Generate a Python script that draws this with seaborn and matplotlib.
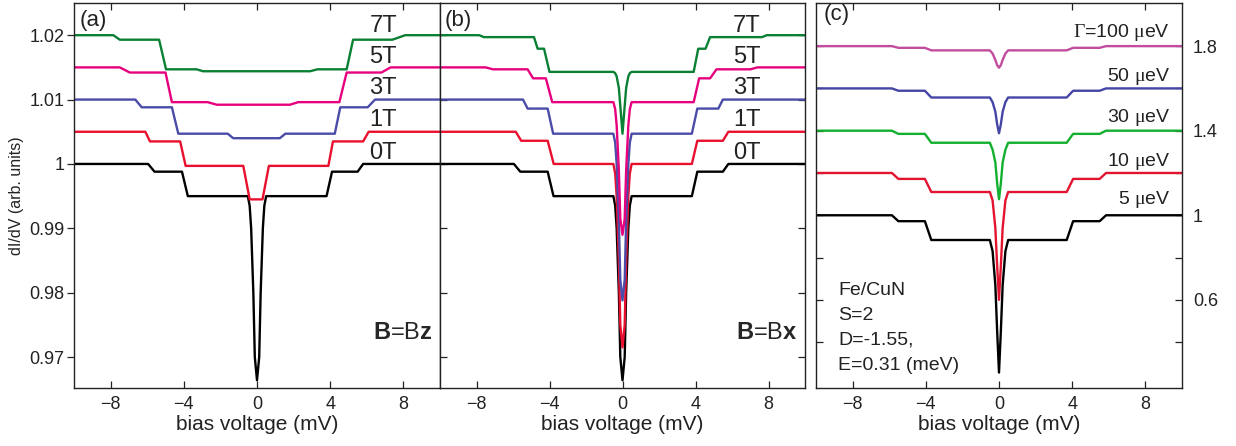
import numpy as np
import pandas as pd
import matplotlib
matplotlib.use("Agg")
import matplotlib.pyplot as plt
import seaborn as sns

# ---------------- data ----------------
# shared bias grid for the B = 0 curve (same in panels a and b)
zero_V = [-10, -5.95, -5.6, -4.1, -3.78, -0.5, -0.4, -0.32, -0.2, -0.12, 0,
          0.12, 0.2, 0.32, 0.4, 0.5, 3.8, 4.1, 5.5, 5.8, 10]
zero_G = [1.0, 1.0, 0.9988, 0.9988, 0.995, 0.995, 0.9935, 0.99, 0.98, 0.97, 0.9664,
          0.97, 0.98, 0.99, 0.9935, 0.995, 0.995, 0.9988, 0.9988, 1.0, 1.0]

# panel (a): B along z
a1_V = [-10, -6.1, -5.85, -4.2, -3.9, -0.75, -0.4, 0.3, 0.65, 3.9, 4.15, 5.8, 6.1, 10]
a1_G = [1.005, 1.005, 1.0035, 1.0035, 0.9997, 0.9997, 0.9945, 0.9945, 0.9997, 0.9997,
        1.0035, 1.0035, 1.005, 1.005]
a3_V = [-10, -6.65, -6.3, -4.65, -4.3, -1.6, -1.3, 1.25, 1.55, 4.25, 4.55, 6.05, 6.45, 10]
a3_G = [1.01, 1.01, 1.0088, 1.0088, 1.0047, 1.0047, 1.004, 1.004, 1.0047, 1.0047,
        1.0088, 1.0088, 1.01, 1.01]
a5_V = [-10, -7.5, -6.95, -5.0, -4.65, -2.7, -2.2, 1.8, 2.25, 4.5, 4.9, 6.8, 7.3, 10]
a5_G = [1.015, 1.015, 1.0142, 1.0142, 1.0096, 1.0096, 1.0092, 1.0092, 1.0096, 1.0096,
        1.0142, 1.0142, 1.015, 1.015]
a7_V = [-10, -7.85, -7.5, -5.35, -4.97, -3.3, -2.95, 2.9, 3.3, 4.9, 5.25, 7.4, 8.1, 10]
a7_G = [1.02, 1.02, 1.0193, 1.0193, 1.0147, 1.0147, 1.0144, 1.0144, 1.0147, 1.0147,
        1.0193, 1.0193, 1.02, 1.02]

# panel (b): B along x
b1_V = [-10, -5.85, -5.55, -4.1, -3.77, -0.5, -0.4, -0.32, -0.2, -0.12, 0,
        0.12, 0.2, 0.32, 0.4, 0.5, 3.8, 4.1, 5.5, 5.8, 10]
b1_G = [1.005, 1.005, 1.0036, 1.0036, 1.0, 1.0, 0.9985, 0.995, 0.985, 0.975, 0.9715,
        0.975, 0.985, 0.995, 0.9985, 1.0, 1.0, 1.0036, 1.0036, 1.005, 1.005]
b3_V = [-10, -5.45, -5.2, -4.1, -3.8, -0.5, -0.4, -0.32, -0.2, -0.12, 0,
        0.12, 0.2, 0.32, 0.4, 0.5, 3.8, 4.1, 5.25, 5.5, 10]
b3_G = [1.01, 1.01, 1.0086, 1.0086, 1.0047, 1.0047, 1.0033, 1.0, 0.991, 0.982, 0.9788,
        0.982, 0.991, 1.0, 1.0033, 1.0047, 1.0047, 1.0086, 1.0086, 1.01, 1.01]
b5_V = [-10, -7.5, -7.1, -5.2, -4.9, -4.2, -3.85, -0.5, -0.4, -0.32, -0.2, -0.12, 0,
        0.12, 0.2, 0.32, 0.4, 0.5, 3.9, 4.2, 4.8, 5.15, 7.0, 7.4, 10]
b5_G = [1.015, 1.015, 1.0147, 1.0147, 1.0133, 1.0133, 1.0096, 1.0096, 1.0085, 1.006,
        0.999, 0.9915, 0.989, 0.9915, 0.999, 1.006, 1.0085, 1.0096, 1.0096, 1.0133,
        1.0133, 1.0147, 1.0147, 1.015, 1.015]
b7_V = [-10, -7.85, -7.6, -4.85, -4.65, -4.3, -4.0, -0.5, -0.4, -0.32, -0.2, -0.12, 0,
        0.12, 0.2, 0.32, 0.4, 0.5, 3.9, 4.15, 4.55, 4.8, 7.65, 7.9, 10]
b7_G = [1.02, 1.02, 1.0197, 1.0197, 1.0179, 1.0179, 1.0143, 1.0143, 1.0141, 1.0136,
        1.0118, 1.009, 1.0047, 1.009, 1.0118, 1.0136, 1.0141, 1.0143, 1.0143, 1.0179,
        1.0179, 1.0197, 1.0197, 1.02, 1.02]

# panel (c): broadening Gamma, curves offset by 0.2
c_V = [-10, -5.85, -5.5, -4.05, -3.7, -0.5, -0.35, -0.2, -0.1, 0,
       0.1, 0.2, 0.35, 0.5, 3.7, 4.05, 5.5, 5.85, 10]
c5_G = [1.0, 1.0, 0.972, 0.972, 0.883, 0.883, 0.83, 0.67, 0.45, 0.256,
        0.45, 0.67, 0.83, 0.883, 0.883, 0.972, 0.972, 1.0, 1.0]
c10_G = [1.2, 1.2, 1.172, 1.172, 1.11, 1.11, 1.07, 0.94, 0.76, 0.6,
         0.76, 0.94, 1.07, 1.11, 1.11, 1.172, 1.172, 1.2, 1.2]
c30_G = [1.4, 1.4, 1.385, 1.385, 1.343, 1.343, 1.31, 1.25, 1.15, 1.076,
         1.15, 1.25, 1.31, 1.343, 1.343, 1.385, 1.385, 1.4, 1.4]
c50_G = [1.6, 1.6, 1.589, 1.589, 1.557, 1.557, 1.535, 1.49, 1.43, 1.388,
         1.43, 1.49, 1.535, 1.557, 1.557, 1.589, 1.589, 1.6, 1.6]
c100_G = [1.8, 1.8, 1.792, 1.792, 1.78, 1.78, 1.765, 1.735, 1.71, 1.698,
          1.71, 1.735, 1.765, 1.78, 1.78, 1.792, 1.792, 1.8, 1.8]

field_labels = ["7T", "5T", "3T", "1T", "0T"]
field_label_G = [1.0215, 1.0166, 1.0118, 1.0068, 1.0017]
gamma_labels = [r"$\mathrm{\Gamma}$=100 $\mathrm{\mu}$eV", r"50 $\mathrm{\mu}$eV",
                r"30 $\mathrm{\mu}$eV", r"10 $\mathrm{\mu}$eV", r"5 $\mathrm{\mu}$eV"]
gamma_label_G = [1.865, 1.656, 1.462, 1.254, 1.074]

# ---------------- style ----------------
sns.set_style("ticks")
plt.rcParams['font.family'] = ['Liberation Sans', 'DejaVu Sans']
plt.rcParams['mathtext.fontset'] = 'custom'
plt.rcParams['mathtext.rm'] = 'Liberation Serif'
plt.rcParams['mathtext.it'] = 'Liberation Serif:italic'
plt.rcParams['mathtext.bf'] = 'Liberation Sans:bold'

col_ab = {"0T": "black", "1T": "#e8102e", "3T": "#4b4ba8", "5T": "#e6007e", "7T": "#0a8034"}
col_c = {"5": "black", "10": "#e31430", "30": "#12b02e", "50": "#4545a5", "100": "#c24c9e"}


def long_df(curves):
    frames = []
    for name, V, G in curves:
        frames.append(pd.DataFrame({"V": V, "G": G, "curve": name}))
    return pd.concat(frames, ignore_index=True)


df_a = long_df([("0T", zero_V, zero_G), ("1T", a1_V, a1_G), ("3T", a3_V, a3_G),
                ("5T", a5_V, a5_G), ("7T", a7_V, a7_G)])
df_b = long_df([("0T", zero_V, zero_G), ("1T", b1_V, b1_G), ("3T", b3_V, b3_G),
                ("5T", b5_V, b5_G), ("7T", b7_V, b7_G)])
df_c = long_df([("5", c_V, c5_G), ("10", c_V, c10_G), ("30", c_V, c30_G),
                ("50", c_V, c50_G), ("100", c_V, c100_G)])

fig = plt.figure(figsize=(12.36, 4.46), dpi=100)
H = 446.0
W = 1236.0
ax_a = fig.add_axes([74 / W, 58 / H, 366 / W, 385 / H])
ax_b = fig.add_axes([440 / W, 58 / H, 365 / W, 385 / H])
ax_c = fig.add_axes([816 / W, 58 / H, 366 / W, 385 / H])

tick_kw = dict(length=5, width=0.9, color="#222222", labelcolor="#222222")

for ax, df, pal in [(ax_a, df_a, col_ab), (ax_b, df_b, col_ab), (ax_c, df_c, col_c)]:
    sns.lineplot(data=df, x="V", y="G", hue="curve", palette=pal, estimator=None,
                 sort=False, legend=False, lw=1.7, ax=ax)
    ax.set_xlim(-10, 10)
    ax.set_xticks([-8, -4, 0, 4, 8])
    ax.tick_params(axis="x", which="both", direction="in", top=True, bottom=True,
                   labelsize=13, pad=6, **tick_kw)
    ax.set_xlabel("bias voltage (mV)", fontsize=15, labelpad=1, color="#222222")
    ax.set_ylabel("")
    for s in ax.spines.values():
        s.set_linewidth(1.0)
        s.set_color("#222222")

# panels a and b share the same y scale
ab_ticks = [0.97, 0.98, 0.99, 1.0, 1.01, 1.02]
for ax in (ax_a, ax_b):
    ax.set_ylim(0.9652, 1.025)
    ax.set_yticks(ab_ticks)
ax_a.set_yticklabels(["0.97", "0.98", "0.99", "1", "1.01", "1.02"])
ax_a.tick_params(axis="y", direction="out", left=True, right=False,
                 labelsize=13, pad=2, **tick_kw)
ax_a.set_ylabel("dI/dV (arb. units)", fontsize=11.5, color="#222222")
ax_a.yaxis.set_label_coords(-0.137, 0.5)
ax_b.tick_params(axis="y", direction="in", left=True, right=True,
                 labelleft=False, **tick_kw)

# panel c: labels on the right
ax_c.set_ylim(0.183, 2.004)
ax_c.set_yticks([0.6, 1.0, 1.4, 1.8])
ax_c.set_yticklabels(["0.6", "1", "1.4", "1.8"])
ax_c.set_yticks([0.4, 0.8, 1.2, 1.6], minor=True)
ax_c.tick_params(axis="y", which="both", direction="in", left=True, right=True,
                 labelleft=False, labelright=True, labelsize=13, pad=8, **tick_kw)

# texts
for ax, letter, xv, yv in [(ax_a, "(a)", -9.7, 1.0223), (ax_b, "(b)", -9.75, 1.0223),
                           (ax_c, "(c)", -9.6, 1.95)]:
    ax.text(xv, yv, letter, fontsize=16, ha="left", va="center", color="#222222")

for lab, yv in zip(field_labels, field_label_G):
    ax_a.text(7.65, yv, lab, fontsize=17, ha="right", va="center", color="#222222")
    ax_b.text(7.55, yv, lab, fontsize=17, ha="right", va="center", color="#222222")

ax_a.text(9.6, 0.9737, r"$\mathbf{B}$=B$\mathbf{z}$", fontsize=17, ha="right", va="center")
ax_b.text(9.6, 0.9737, r"$\mathbf{B}$=B$\mathbf{x}$", fontsize=17, ha="right", va="center")

for lab, yv in zip(gamma_labels, gamma_label_G):
    ax_c.text(9.35, yv, lab, fontsize=14, ha="right", va="center", color="#222222")

info_lines = ["Fe/CuN", "S=2", "D=-1.55,", "E=0.31 (meV)"]
info_G = [0.645, 0.526, 0.408, 0.289]
for line, yv in zip(info_lines, info_G):
    ax_c.text(-8.8, yv, line, fontsize=14, ha="left", va="center", color="#222222")

fig.savefig("out.png", dpi=100)
